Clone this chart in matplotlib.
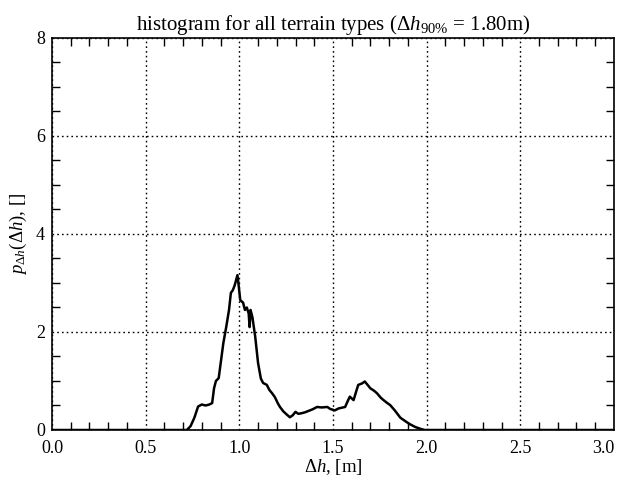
import matplotlib
matplotlib.use("Agg")
import matplotlib.pyplot as plt
from matplotlib.ticker import MultipleLocator

plt.rcParams["font.family"] = "Liberation Serif"
plt.rcParams["mathtext.fontset"] = "custom"
plt.rcParams["mathtext.rm"] = "Liberation Serif"
plt.rcParams["mathtext.it"] = "Liberation Serif:italic"

# histogram curve
dh = [0.0, 0.72, 0.74, 0.76, 0.78, 0.80, 0.82, 0.84, 0.855, 0.865, 0.875, 0.89,
      0.90, 0.915, 0.93, 0.945, 0.955, 0.965, 0.975, 0.99, 0.995, 1.005, 1.02,
      1.03, 1.04, 1.05, 1.055, 1.06, 1.07, 1.085, 1.10, 1.115, 1.127, 1.147,
      1.16, 1.175, 1.19, 1.205, 1.217, 1.235, 1.255, 1.27, 1.285, 1.30, 1.315,
      1.33, 1.35, 1.37, 1.39, 1.415, 1.44, 1.47, 1.485, 1.51, 1.53, 1.565,
      1.58, 1.59, 1.61, 1.625, 1.635, 1.655, 1.67, 1.685, 1.70, 1.72, 1.735,
      1.755, 1.77, 1.79, 1.805, 1.83, 1.86, 1.89, 1.91, 1.94, 1.97, 1.99, 3.0]
p = [0.0, 0.0, 0.08, 0.25, 0.48, 0.52, 0.50, 0.52, 0.55, 0.85, 1.0, 1.06,
     1.35, 1.78, 2.1, 2.45, 2.8, 2.85, 2.95, 3.16, 3.0, 2.65, 2.6,
     2.45, 2.5, 2.38, 2.1, 2.45, 2.3, 1.9, 1.37, 1.05, 0.96, 0.92,
     0.82, 0.75, 0.67, 0.55, 0.47, 0.38, 0.31, 0.26, 0.30, 0.37, 0.33,
     0.34, 0.36, 0.39, 0.42, 0.47, 0.46, 0.47, 0.43, 0.40, 0.44, 0.47,
     0.60, 0.68, 0.61, 0.80, 0.92, 0.95, 0.99, 0.92, 0.85, 0.80, 0.75,
     0.66, 0.61, 0.55, 0.51, 0.40, 0.25, 0.17, 0.12, 0.06, 0.02, 0.0, 0.0]

xticks = [0.0, 0.5, 1.0, 1.5, 2.0, 2.5, 3.0]
xticklabels = ["0.0", "0.5", "1.0", "1.5", "2.0", "2.5", "3.0"]
yticks = [0, 2, 4, 6, 8]

fig = plt.figure(figsize=(6.17, 4.79), dpi=100)
ax = fig.add_axes([0.0843, 0.1023, 0.9107, 0.8184])

ax.plot(dh, p, color="black", lw=1.8)

ax.set_xlim(0, 3.0)
ax.set_ylim(0, 8)
ax.set_xticks(xticks, xticklabels)
ax.set_yticks(yticks)
ax.xaxis.set_minor_locator(MultipleLocator(0.1))
ax.yaxis.set_minor_locator(MultipleLocator(0.5))

ax.tick_params(which="both", direction="in", top=True, right=True,
               labelsize=13, width=1)
ax.tick_params(which="major", length=0)
ax.tick_params(axis="x", which="major", pad=7)
ax.tick_params(axis="y", which="major", pad=5)
ax.tick_params(which="minor", length=6)
ax.grid(True, which="major", color="black", linestyle=(0, (1.2, 2.2)), lw=1)
for s in ax.spines.values():
    s.set_linewidth(1.2)

# keep the last x label inside the figure
ax.get_xticklabels()[-1].set_horizontalalignment("right")

ax.set_xlabel(r"$\Delta h$, [m]", fontsize=13.5, labelpad=0)
ax.set_ylabel(r"$p_{\Delta h}(\Delta h)$, []", fontsize=13.5, labelpad=5)
ax.set_title(r"histogram for all terrain types ($\Delta h_{90\%}$ = 1.80m)",
             fontsize=15, pad=6)

fig.savefig("out.png", dpi=100)
